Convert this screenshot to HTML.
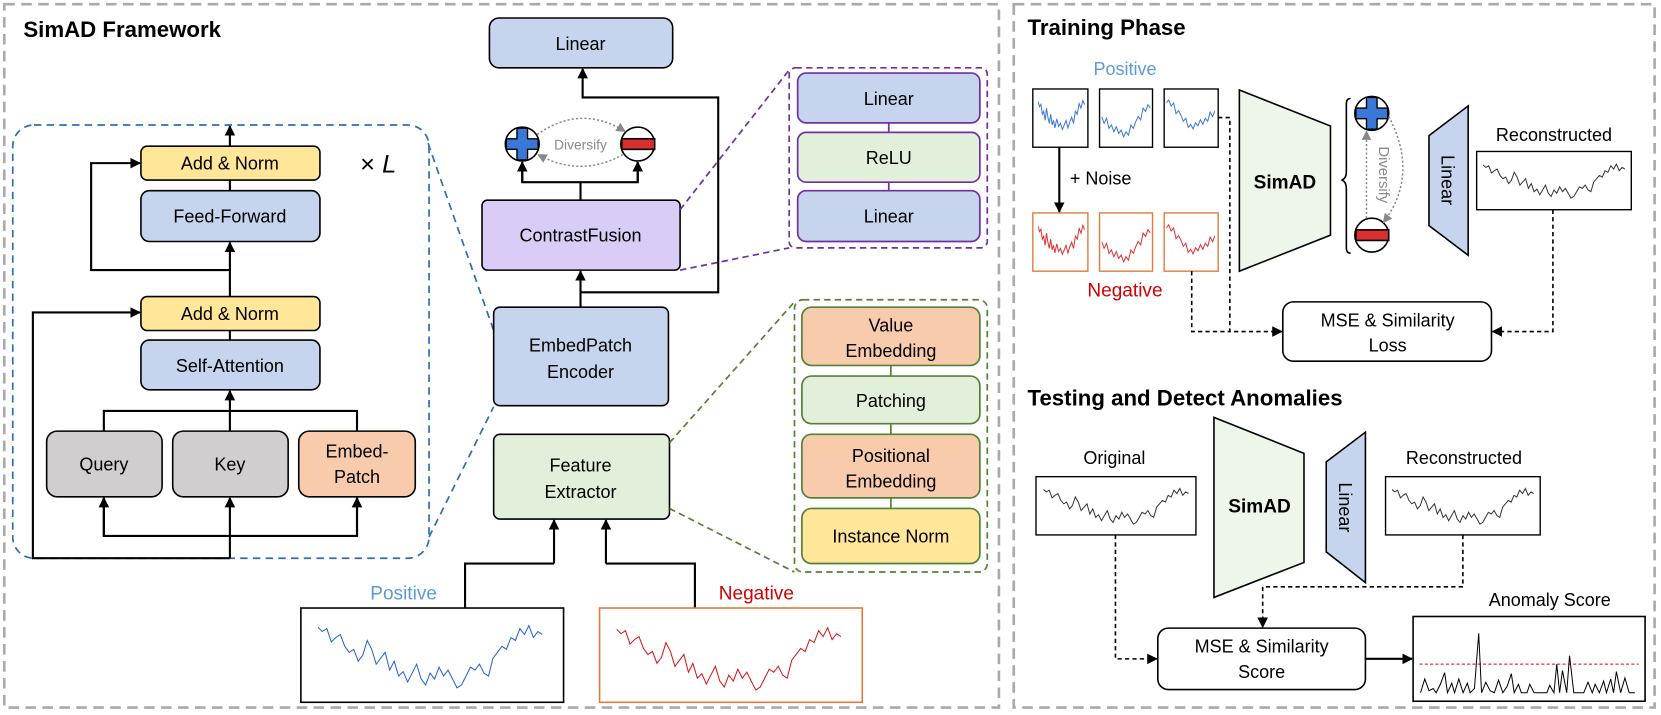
<!DOCTYPE html>
<html><head><meta charset="utf-8"><style>
html,body{margin:0;padding:0;background:#fff;}
svg{display:block;}
text{font-family:"Liberation Sans",sans-serif;}
</style></head><body>
<svg width="1661" height="715" viewBox="0 0 1568 675" xmlns="http://www.w3.org/2000/svg">
<defs>
<marker id="ar" markerWidth="10" markerHeight="10" refX="9" refY="5" orient="auto" markerUnits="userSpaceOnUse"><path d="M0,0 L10,5 L0,10 z" fill="#000"/></marker>
<marker id="ag" markerWidth="9" markerHeight="9" refX="8" refY="4.5" orient="auto" markerUnits="userSpaceOnUse"><path d="M0,0 L9,4.5 L0,9 z" fill="#888"/></marker>
<symbol id="ts" viewBox="0 0 100 50" preserveAspectRatio="none">
<polyline fill="none" stroke="currentColor" stroke-width="1" vector-effect="non-scaling-stroke" points="0,5 2,8 4,6 6,15 8,12 10,10 12,18 14,22 16,20 18,28 20,24 22,14 24,20 26,30 28,26 30,22 32,34 34,28 36,38 38,35 40,42 42,36 44,30 46,40 48,44 50,36 52,40 54,32 56,38 58,34 60,40 62,46 64,44 66,38 68,32 70,34 72,30 74,36 76,38 78,26 80,22 82,18 84,20 86,12 88,14 90,6 92,10 94,4 96,12 98,8 100,10"/>
</symbol>
<symbol id="ts2" viewBox="0 0 100 50" preserveAspectRatio="none">
<polyline fill="none" stroke="currentColor" stroke-width="1" vector-effect="non-scaling-stroke" points="0,5 3,12 6,9 9,22 12,18 15,30 18,14 21,26 24,34 27,22 30,36 33,30 36,40 40,28 44,38 48,34 52,42 56,36 60,30 64,40 68,32 72,26 76,34 80,18 84,22 88,8 92,14 96,4 100,10"/>
</symbol>
<symbol id="ts3" viewBox="0 0 100 50" preserveAspectRatio="none">
<polyline fill="none" stroke="currentColor" stroke-width="1" vector-effect="non-scaling-stroke" points="0,20 5,28 10,22 15,34 20,30 25,38 30,32 35,40 40,36 45,44 50,38 55,42 60,30 65,34 70,26 75,20 80,24 85,10 90,14 95,6 100,10"/>
</symbol>
</defs>

<rect x="4" y="4" width="939" height="664" fill="none" stroke="#aaa" stroke-width="2.5" stroke-dasharray="10,6"/>
<rect x="957" y="4" width="605" height="664" fill="none" stroke="#aaa" stroke-width="2.5" stroke-dasharray="10,6"/>
<text x="22" y="35" font-size="21" font-weight="bold">SimAD Framework</text>
<text x="970" y="33" font-size="21" font-weight="bold">Training Phase</text>
<text x="970" y="383" font-size="21" font-weight="bold">Testing and Detect Anomalies</text>

<rect x="12" y="118" width="393" height="409" rx="20" fill="none" stroke="#2E6DB4" stroke-width="1.6" stroke-dasharray="7,5"/>
<text x="340" y="163" font-size="24" font-family="Liberation Serif,serif">× <tspan font-style="italic">L</tspan></text>
<g stroke="#000" stroke-width="1.5">
<rect x="133" y="138" width="169" height="32" rx="6" fill="#FFE699"/>
<rect x="133" y="180" width="169" height="48" rx="8" fill="#C7D4ED"/>
<rect x="133" y="280" width="169" height="32" rx="6" fill="#FFE699"/>
<rect x="133" y="321" width="169" height="47" rx="8" fill="#C7D4ED"/>
<rect x="44" y="407" width="109" height="62" rx="10" fill="#D0CECE"/>
<rect x="163" y="407" width="109" height="62" rx="10" fill="#D0CECE"/>
<rect x="282" y="407" width="110" height="62" rx="10" fill="#F8CBAD"/>
</g>
<g font-size="17" text-anchor="middle">
<text x="217" y="160">Add &amp; Norm</text>
<text x="217" y="210">Feed-Forward</text>
<text x="217" y="302">Add &amp; Norm</text>
<text x="217" y="351">Self-Attention</text>
<text x="98" y="444">Query</text>
<text x="217" y="444">Key</text>
<text x="337" y="432">Embed-</text>
<text x="337" y="456">Patch</text>
</g>
<g stroke="#000" stroke-width="2" fill="none">
<line x1="217" y1="138" x2="217" y2="119" marker-end="url(#ar)"/>
<line x1="217" y1="180" x2="217" y2="170"/>
<line x1="217" y1="280" x2="217" y2="229" marker-end="url(#ar)"/>
<polyline points="217,255 86,255 86,154 132,154" marker-end="url(#ar)"/>
<line x1="217" y1="321" x2="217" y2="312"/>
<line x1="217" y1="388" x2="217" y2="369" marker-end="url(#ar)"/>
<polyline points="98,407 98,388 337,388 337,407"/>
<line x1="217" y1="407" x2="217" y2="388"/>
<polyline points="98,470 98,506 337,506 337,470"/>
<line x1="98" y1="506" x2="98" y2="470" marker-end="url(#ar)"/>
<line x1="337" y1="506" x2="337" y2="470" marker-end="url(#ar)"/>
<line x1="217" y1="527" x2="217" y2="470" marker-end="url(#ar)"/>
<polyline points="217,527 31,527 31,295 132,295" marker-end="url(#ar)"/>
</g>
<line x1="404" y1="135" x2="466" y2="312" stroke="#2E6DB4" stroke-width="1.6" stroke-dasharray="7,5"/>
<line x1="405" y1="507" x2="466" y2="384" stroke="#2E6DB4" stroke-width="1.6" stroke-dasharray="7,5"/>

<g stroke="#000" stroke-width="1.5">
<rect x="462" y="17" width="173" height="47" rx="9" fill="#C7D4ED"/>
<rect x="455" y="189" width="187" height="66" rx="5" fill="#D9CCF7"/>
<rect x="466" y="290" width="165" height="93" rx="6" fill="#C7D4ED"/>
<rect x="466" y="410" width="166" height="80" rx="6" fill="#E2EFDA"/>
</g>
<g font-size="17" text-anchor="middle">
<text x="548" y="47">Linear</text>
<text x="548" y="228">ContrastFusion</text>
<text x="548" y="332">EmbedPatch</text>
<text x="548" y="357">Encoder</text>
<text x="548" y="445">Feature</text>
<text x="548" y="470">Extractor</text>
</g>
<g stroke="#000" stroke-width="2" fill="none">
<line x1="548" y1="290" x2="548" y2="256" marker-end="url(#ar)"/>
<polyline points="548,276 678,276 678,92 550,92 550,65" marker-end="url(#ar)"/>
<line x1="548" y1="189" x2="548" y2="172"/>
<polyline points="493,153 493,172 602,172 602,153"/>
<line x1="493" y1="172" x2="493" y2="153" marker-end="url(#ar)"/>
<line x1="602" y1="172" x2="602" y2="153" marker-end="url(#ar)"/>
<line x1="523" y1="532" x2="523" y2="491" marker-end="url(#ar)"/>
<polyline points="439,574 439,532 523,532"/>
<line x1="572" y1="532" x2="572" y2="491" marker-end="url(#ar)"/>
<polyline points="572,532 656,532 656,574"/>
</g>
<g stroke="#000" stroke-width="1.5">
<circle cx="493" cy="136" r="16" fill="#fff"/>
<path d="M488,121 h10 v10 h10 v10 h-10 v10 h-10 v-10 h-10 v-10 h10 z" fill="#3A78D8" stroke-width="1.3"/>
<circle cx="602" cy="136" r="16" fill="#fff"/>
<rect x="587" y="131" width="31" height="10" fill="#D83030"/>
</g>
<path d="M507,127 Q548,98 590,124" fill="none" stroke="#888" stroke-width="1.4" stroke-dasharray="2,2" marker-end="url(#ag)"/>
<path d="M588,146 Q548,168 508,146" fill="none" stroke="#888" stroke-width="1.4" stroke-dasharray="2,2" marker-end="url(#ag)"/>
<text x="548" y="141" font-size="13" fill="#888" text-anchor="middle">Diversify</text>

<rect x="745" y="64" width="187" height="170" rx="6" fill="none" stroke="#7030A0" stroke-width="1.6" stroke-dasharray="6,4"/>
<line x1="642" y1="198" x2="745" y2="66" stroke="#7030A0" stroke-width="1.6" stroke-dasharray="6,4"/>
<line x1="642" y1="255" x2="745" y2="234" stroke="#7030A0" stroke-width="1.6" stroke-dasharray="6,4"/>
<g stroke="#7030A0" stroke-width="1.6">
<line x1="839" y1="116" x2="839" y2="125"/><line x1="839" y1="172" x2="839" y2="180"/>
<rect x="753" y="69" width="172" height="47" rx="8" fill="#C7D4ED"/>
<rect x="753" y="125" width="172" height="47" rx="8" fill="#E2EFDA"/>
<rect x="753" y="180" width="172" height="48" rx="8" fill="#C7D4ED"/>
</g>
<g font-size="17" text-anchor="middle">
<text x="839" y="99">Linear</text>
<text x="839" y="155">ReLU</text>
<text x="839" y="210">Linear</text>
</g>

<rect x="750" y="283" width="182" height="257" rx="8" fill="none" stroke="#548235" stroke-width="1.6" stroke-dasharray="6,4"/>
<line x1="632" y1="418" x2="750" y2="285" stroke="#548235" stroke-width="1.6" stroke-dasharray="6,4"/>
<line x1="632" y1="480" x2="750" y2="540" stroke="#548235" stroke-width="1.6" stroke-dasharray="6,4"/>
<g stroke="#548235" stroke-width="1.6">
<line x1="841" y1="345" x2="841" y2="355"/><line x1="841" y1="400" x2="841" y2="410"/><line x1="841" y1="470" x2="841" y2="480"/>
<rect x="757" y="290" width="168" height="55" rx="9" fill="#F8CBAD"/>
<rect x="757" y="355" width="168" height="45" rx="9" fill="#E2EFDA"/>
<rect x="757" y="410" width="168" height="60" rx="9" fill="#F8CBAD"/>
<rect x="757" y="480" width="168" height="52" rx="9" fill="#FFE699"/>
</g>
<g font-size="17" text-anchor="middle">
<text x="841" y="313">Value</text>
<text x="841" y="337">Embedding</text>
<text x="841" y="384">Patching</text>
<text x="841" y="436">Positional</text>
<text x="841" y="460">Embedding</text>
<text x="841" y="512">Instance Norm</text>
</g>

<text x="381" y="566" font-size="18" fill="#5B9BD5" text-anchor="middle">Positive</text>
<text x="714" y="566" font-size="18" fill="#D00000" text-anchor="middle">Negative</text>
<rect x="284" y="574" width="248" height="89" fill="#fff" stroke="#000" stroke-width="1.5"/>
<rect x="566" y="574" width="248" height="89" fill="#fff" stroke="#E07A3A" stroke-width="1.5"/>
<use href="#ts" x="300" y="585" width="212" height="70" style="color:#1F5FD8"/>
<use href="#ts" x="582" y="587" width="212" height="70" style="color:#D81010"/>

<text x="1062" y="71" font-size="17" fill="#5B9BD5" text-anchor="middle">Positive</text>
<g fill="#fff" stroke-width="1.3">
<rect x="975" y="84" width="52" height="55" stroke="#000"/>
<rect x="1038" y="84" width="50" height="55" stroke="#000"/>
<rect x="1099" y="84" width="51" height="55" stroke="#000"/>
<rect x="975" y="201" width="52" height="55" stroke="#E07A3A"/>
<rect x="1038" y="201" width="50" height="55" stroke="#E07A3A"/>
<rect x="1099" y="201" width="51" height="55" stroke="#E07A3A"/>
</g>
<use href="#ts2" x="980" y="92" width="44" height="36" style="color:#3A78D8"/>
<use href="#ts3" x="1040" y="94" width="46" height="40" style="color:#3A78D8"/>
<use href="#ts3" x="1101" y="90" width="46" height="36" transform="translate(2248,0) scale(-1,1)" style="color:#3A78D8"/>
<use href="#ts2" x="980" y="210" width="44" height="36" style="color:#E03030"/>
<use href="#ts3" x="1040" y="212" width="46" height="40" style="color:#E03030"/>
<use href="#ts3" x="1101" y="208" width="46" height="36" transform="translate(2248,0) scale(-1,1)" style="color:#E03030"/>
<line x1="1000" y1="139" x2="1000" y2="200" stroke="#000" stroke-width="2" marker-end="url(#ar)"/>
<text x="1010" y="174" font-size="17">+ Noise</text>
<text x="1062" y="280" font-size="18" fill="#D00000" text-anchor="middle">Negative</text>
<polygon points="1170,85 1256,119 1256,222 1170,256" fill="#EEF6EA" stroke="#000" stroke-width="1.5"/>
<text x="1213" y="178" font-size="18" font-weight="bold" text-anchor="middle">SimAD</text>
<path d="M1275,93 q-4,0 -4,5 v64 q0,6 -4,8 q4,2 4,8 v56 q0,5 4,5" fill="none" stroke="#000" stroke-width="1.5"/>
<g stroke="#000" stroke-width="1.5">
<circle cx="1295" cy="107" r="16" fill="#fff"/>
<path d="M1290,92 h10 v10 h10 v10 h-10 v10 h-10 v-10 h-10 v-10 h10 z" fill="#3A78D8" stroke-width="1.3"/>
<circle cx="1295" cy="222" r="16" fill="#fff"/>
<rect x="1280" y="217" width="31" height="10" fill="#D83030"/>
</g>
<path d="M1290,206 L1290,124" fill="none" stroke="#888" stroke-width="1.4" stroke-dasharray="2,2" marker-end="url(#ag)"/>
<path d="M1311,110 Q1340,165 1306,210" fill="none" stroke="#888" stroke-width="1.4" stroke-dasharray="2,2" marker-end="url(#ag)"/>
<text x="0" y="0" font-size="14" fill="#888" text-anchor="middle" transform="translate(1302,165) rotate(90)">Diversify</text>
<polygon points="1349,128 1386,100 1386,241 1349,213" fill="#C7D4ED" stroke="#000" stroke-width="1.5"/>
<text x="0" y="0" font-size="17" text-anchor="middle" transform="translate(1361,170) rotate(90)">Linear</text>
<text x="1467" y="133" font-size="17" text-anchor="middle">Reconstructed</text>
<rect x="1394" y="143" width="146" height="55" fill="#fff" stroke="#000" stroke-width="1.3"/>
<use href="#ts" x="1400" y="152" width="134" height="38" style="color:#333"/>
<rect x="1211" y="285" width="197" height="56" rx="10" fill="#fff" stroke="#000" stroke-width="1.5"/>
<text x="1310" y="308" font-size="17" text-anchor="middle">MSE &amp; Similarity</text>
<text x="1310" y="332" font-size="17" text-anchor="middle">Loss</text>
<g stroke="#000" stroke-width="1.5" stroke-dasharray="4,3" fill="none">
<polyline points="1150,111 1161,111 1161,313 1210,313" marker-end="url(#ar)"/>
<polyline points="1125,256 1125,313 1161,313"/>
<polyline points="1466,198 1466,313 1409,313" marker-end="url(#ar)"/>
</g>

<text x="1052" y="438" font-size="17" text-anchor="middle">Original</text>
<rect x="978" y="450" width="151" height="55" fill="#fff" stroke="#000" stroke-width="1.3"/>
<use href="#ts" x="985" y="458" width="137" height="40" style="color:#333"/>
<polygon points="1146,394 1231,428 1231,531 1146,564" fill="#EEF6EA" stroke="#000" stroke-width="1.5"/>
<text x="1189" y="484" font-size="18" font-weight="bold" text-anchor="middle">SimAD</text>
<polygon points="1252,436 1289,408 1289,550 1252,521" fill="#C7D4ED" stroke="#000" stroke-width="1.5"/>
<text x="0" y="0" font-size="17" text-anchor="middle" transform="translate(1264,479) rotate(90)">Linear</text>
<text x="1382" y="438" font-size="17" text-anchor="middle">Reconstructed</text>
<rect x="1308" y="450" width="146" height="55" fill="#fff" stroke="#000" stroke-width="1.3"/>
<use href="#ts" x="1314" y="458" width="134" height="40" style="color:#333"/>
<rect x="1093" y="593" width="196" height="58" rx="10" fill="#fff" stroke="#000" stroke-width="1.5"/>
<text x="1191" y="616" font-size="17" text-anchor="middle">MSE &amp; Similarity</text>
<text x="1191" y="640" font-size="17" text-anchor="middle">Score</text>
<g stroke="#000" stroke-width="1.5" stroke-dasharray="4,3" fill="none">
<polyline points="1053,505 1053,622 1092,622" marker-end="url(#ar)"/>
<polyline points="1381,505 1381,554 1192,554 1192,592" marker-end="url(#ar)"/>
</g>
<line x1="1289" y1="622" x2="1333" y2="622" stroke="#000" stroke-width="2" marker-end="url(#ar)"/>
<text x="1463" y="572" font-size="17" text-anchor="middle">Anomaly Score</text>
<rect x="1334" y="582" width="219" height="80" fill="#fff" stroke="#000" stroke-width="1.5"/>
<line x1="1340" y1="627" x2="1547" y2="627" stroke="#E00" stroke-width="1" stroke-dasharray="3,2"/>
<g transform="translate(1341,0) scale(1.34,1) translate(-1341,0)">
<polyline fill="none" stroke="#000" stroke-width="1" vector-effect="non-scaling-stroke" points="1341,654 1344,641 1347,652 1350,650 1352,654 1355,646 1358,635 1360,654 1363,645 1365,654 1368,641 1371,654 1374,645 1376,654 1379,650 1382,598 1384,654 1387,644 1390,652 1393,654 1396,642 1399,654 1402,648 1405,636 1407,654 1410,646 1412,654 1416,654 1418,646 1421,654 1430,654 1432,647 1435,654 1437,627 1439,654 1441,633 1444,654 1446,619 1449,654 1456,654 1459,644 1462,654 1464,646 1467,654 1470,643 1472,654 1475,641 1477,654 1479,634 1482,654 1485,640 1488,654 1492,654"/>
</g>
</svg>
</body></html>
